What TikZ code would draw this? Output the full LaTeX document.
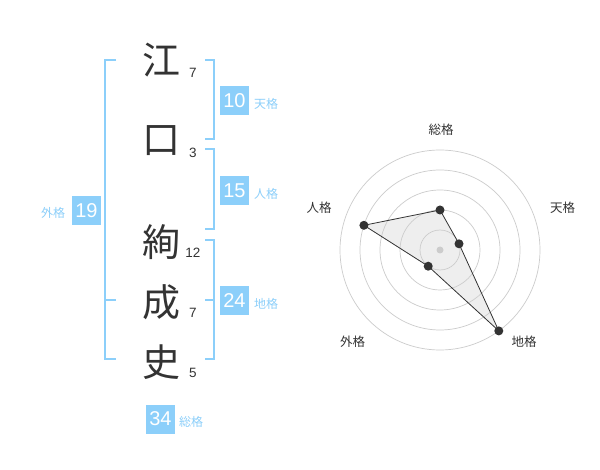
\documentclass[tikz,border=0pt]{standalone}
\usepackage{fontspec}
\setmainfont{Liberation Sans}
\newfontfamily\jp{Noto Sans CJK JP}
\definecolor{kblue}{HTML}{8CCFFA}
\definecolor{ink}{HTML}{333333}
\definecolor{ringgrey}{HTML}{CCCCCC}
\definecolor{areagrey}{HTML}{EEEEEE}
\begin{document}
\begin{tikzpicture}[x=1pt,y=-1pt,
  kanji/.style={font=\jp\fontsize{38}{38}\selectfont, text=ink, inner sep=0},
  strokes/.style={font=\fontsize{13.5}{13.5}\selectfont, text=ink, inner sep=0},
  numbox/.style={fill=kblue, text=white, minimum width=29, minimum height=29, inner sep=0, font=\fontsize{20}{20}\selectfont},
  klabel/.style={font=\jp\fontsize{12}{12}\selectfont, text=kblue, inner sep=0},
  bracket/.style={draw=kblue, line width=1.5},
  ring/.style={draw=ringgrey, line width=0.7},
  rlabel/.style={font=\jp\fontsize{12.5}{12.5}\selectfont, text=ink, inner sep=0},
  dot/.style={circle, fill=ink, minimum size=9, inner sep=0},
  edge/.style={draw=ink, line width=0.8}
]
\useasboundingbox (0,0) rectangle (600,470);
\fill[white] (0,0) rectangle (600,470);

% name characters
\node[kanji] (k1) at (161,60) {江};
\node[kanji] (k2) at (161,141) {口};
\node[kanji] (k3) at (161,242) {絢};
\node[kanji] (k4) at (161,302) {成};
\node[kanji] (k5) at (161,362) {史};
\node[strokes] (s1) at (193,73) {7};
\node[strokes] (s2) at (193,153) {3};
\node[strokes] (s3) at (193,253) {12};
\node[strokes] (s4) at (193,313) {7};
\node[strokes] (s5) at (193,373) {5};

% brackets
\draw[bracket] (116,60) -- (105,60) -- (105,359) -- (116,359);
\draw[bracket] (105,300) -- (116,300);
\draw[bracket] (205,60) -- (214,60) -- (214,139) -- (205,139);
\draw[bracket] (205,149) -- (214,149) -- (214,229) -- (205,229);
\draw[bracket] (205,240) -- (214,240) -- (214,359) -- (205,359);
\draw[bracket] (205,300) -- (214,300);

% boxes
\node[numbox] (b10) at (234.5,100.5) {10};
\node[klabel, anchor=west] (l10) at (254,104) {天格};
\node[numbox] (b15) at (234.5,190.5) {15};
\node[klabel, anchor=west] (l15) at (254,194) {人格};
\node[numbox] (b24) at (234.5,300.5) {24};
\node[klabel, anchor=west] (l24) at (254,304) {地格};
\node[numbox] (b19) at (86.5,210.5) {19};
\node[klabel] (l19) at (53,213) {外格};
\node[numbox] (b34) at (160.5,419) {34};
\node[klabel, anchor=west] (l34) at (179,422) {総格};

% radar chart
\coordinate (c) at (440,250);
\coordinate (pSo) at (440,210);
\coordinate (pTen) at (459.0,243.8);
\coordinate (pChi) at (498.8,330.9);
\coordinate (pGai) at (428.2,266.2);
\coordinate (pJin) at (363.9,225.3);
\fill[areagrey] (pSo) -- (pTen) -- (pChi) -- (pGai) -- (pJin) -- cycle;
\foreach \r in {20,40,60,80,100} \draw[ring] (c) circle[radius=\r];
\node[circle, fill=ringgrey, minimum size=7, inner sep=0] (cdot) at (c) {};
\draw[edge] (pSo) -- (pTen) -- (pChi) -- (pGai) -- (pJin) -- cycle;
\node[dot] (dSo) at (pSo) {};
\node[dot] (dTen) at (pTen) {};
\node[dot] (dChi) at (pChi) {};
\node[dot] (dGai) at (pGai) {};
\node[dot] (dJin) at (pJin) {};
\node[rlabel] (rSo) at (441,130) {総格};
\node[rlabel] (rTen) at (562.5,208) {天格};
\node[rlabel] (rJin) at (319,208) {人格};
\node[rlabel] (rGai) at (352.5,342) {外格};
\node[rlabel] (rChi) at (524,342) {地格};
\end{tikzpicture}
\end{document}
